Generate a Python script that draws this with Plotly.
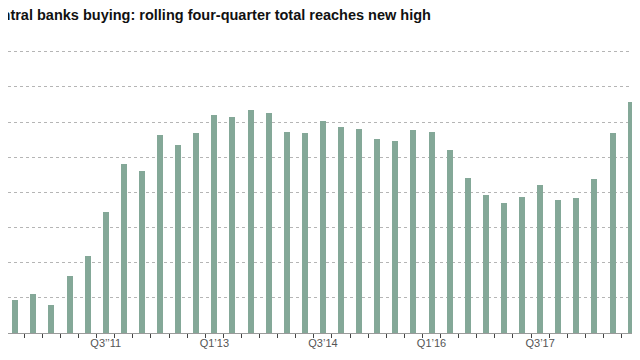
import plotly.graph_objects as go

quarters = [f"Q{q}'{y:02d}" for y in range(10, 19) for q in range(1, 5)]
values = [88, 95, 110, 80, 163, 218, 343, 481, 462, 564,
          534, 570, 620, 613, 633, 625, 573, 568, 602, 586,
          581, 551, 545, 578, 571, 520, 442, 392, 370, 387,
          420, 379, 385, 437, 570, 658]
tick_idx = [0, 6, 12, 18, 24, 30]
tick_text = ["Q1\u201910", "Q3\u2019\u201911", "Q1\u201913", "Q3\u201914", "Q1\u201916", "Q3\u201917"]
title_text = "Central banks buying: rolling four-quarter total reaches new high"

x_idx = list(range(len(quarters)))

# the page body adds an 8 px margin; the figure is sized to fill the visible rest of the window
W, H = 624, 352
T, B = 40, 27
px_per_bar = 18.1
x0 = 0.6                      # index value at the figure's left edge
y_top = (H - T - B) / 0.3516  # value at the plot's top edge

fig = go.Figure(go.Bar(
    x=x_idx, y=values, width=0.33,
    marker=dict(color="#84a898", line=dict(width=0)),
    hovertext=quarters,
))

fig.update_layout(
    width=W, height=H,
    margin=dict(l=0, r=0, t=T, b=B, autoexpand=False),
    paper_bgcolor="white", plot_bgcolor="white",
    showlegend=False,
    font=dict(family="Liberation Sans, Arial, sans-serif", color="#555"),
    bargap=0,
    annotations=[dict(text="<b>" + title_text + "</b>", xref="paper", yref="paper",
                      x=425 / W, xanchor="right", y=1 + (T - 7) / (H - T - B), yanchor="middle",
                      showarrow=False,
                      font=dict(size=14.5, color="#111", family="Liberation Sans, Arial, sans-serif"))],
)
fig.update_xaxes(
    range=[x0, x0 + W / px_per_bar], automargin=False,
    tickmode="array", tickvals=tick_idx, ticktext=tick_text,
    ticks="", tickfont=dict(size=11, color="#555"),
    showgrid=False, zeroline=False,
    showline=True, linecolor="#9a9a9a", linewidth=1,
    minor=dict(tickmode="linear", tick0=0.5, dtick=1, ticks="outside",
               ticklen=4, tickcolor="#444", tickwidth=1, showgrid=False),
)
fig.update_yaxes(
    range=[0, y_top], automargin=False, tickmode="linear", tick0=0, dtick=100,
    showticklabels=False, ticks="",
    showgrid=True, gridcolor="#b5b5b5", griddash="dot", gridwidth=1,
    zeroline=False,
)

fig.write_html("out.html")
